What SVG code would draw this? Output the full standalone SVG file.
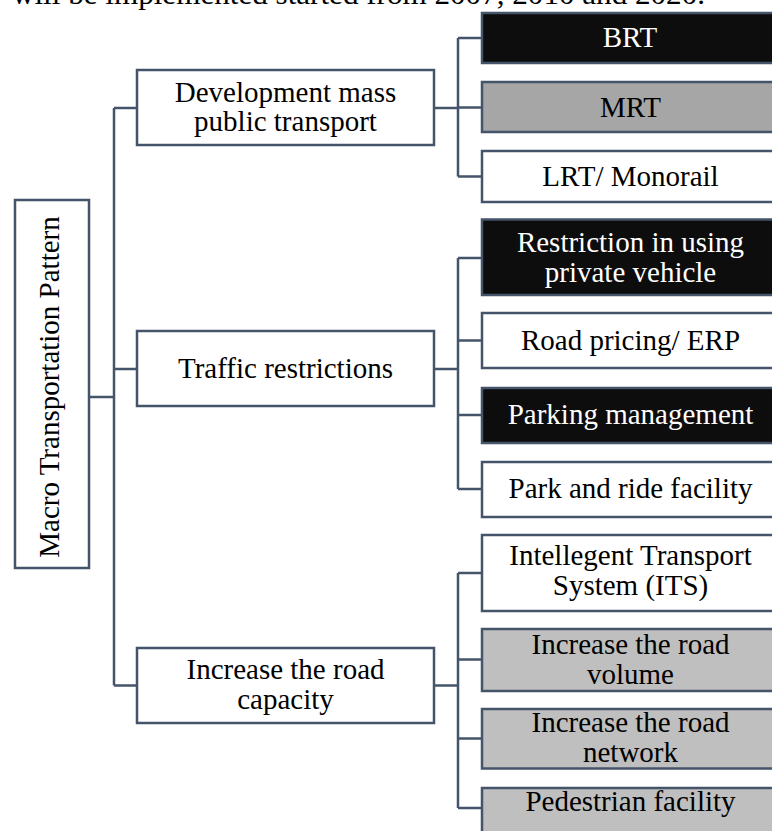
<svg xmlns="http://www.w3.org/2000/svg" width="772" height="831" viewBox="0 0 772 831">
<style>
  .box { stroke: #44546a; stroke-width: 2.5; }
  .w { fill: #ffffff; }
  .k { fill: #0d0d0d; }
  .g1 { fill: #a6a6a6; }
  .g2 { fill: #bfbfbf; }
  .t { font-family: "Liberation Serif", "Times New Roman", serif; font-size: 29px; text-anchor: middle; fill: #000000; }
  .tw { fill: #ffffff; }
  .conn { fill: none; stroke: #44546a; stroke-width: 2.5; }
</style>
<rect width="772" height="831" fill="#ffffff"/>
<text x="12" y="4" font-family="Liberation Serif, 'Times New Roman', serif" font-size="29" fill="#000000" textLength="693" lengthAdjust="spacingAndGlyphs">will be implemented started from 2007, 2010 and 2020.</text>

<g id="connectors">
  <path class="conn" d="M89 397 H114 M114 108 V685.5 M114 108 H137 M114 369 H137 M114 685.5 H137"/>
  <path class="conn" d="M434 108 H458 M458 38 V176.5 M458 38 H482 M458 107.5 H482 M458 176.5 H482"/>
  <path class="conn" d="M434 369 H458 M458 258 V489 M458 258 H482 M458 340.5 H482 M458 415 H482 M458 489 H482"/>
  <path class="conn" d="M434 685.5 H458 M458 573 V808 M458 573 H482 M458 659.5 H482 M458 738.5 H482 M458 808 H482"/>
</g>

<g id="root">
  <rect class="box w" x="15" y="200" width="74" height="368"/>
  <text class="t" transform="translate(59 387) rotate(-90)" x="0" y="0">Macro Transportation Pattern</text>
</g>

<g id="dev">
  <rect class="box w" x="137" y="70" width="297" height="75"/>
  <text class="t" x="285.5" y="101.7">Development mass</text>
  <text class="t" x="285.5" y="131">public transport</text>
</g>
<g id="traffic">
  <rect class="box w" x="137" y="331" width="297" height="75"/>
  <text class="t" x="285.5" y="377.7">Traffic restrictions</text>
</g>
<g id="capacity">
  <rect class="box w" x="137" y="648" width="297" height="75"/>
  <text class="t" x="285.5" y="679">Increase the road</text>
  <text class="t" x="285.5" y="708.5">capacity</text>
</g>

<g id="brt">
  <rect class="box k" x="482" y="13" width="298" height="50"/>
  <text class="t tw" x="630" y="46.7">BRT</text>
</g>
<g id="mrt">
  <rect class="box g1" x="482" y="82" width="298" height="50"/>
  <text class="t" x="630.5" y="116.7">MRT</text>
</g>
<g id="lrt">
  <rect class="box w" x="482" y="151" width="298" height="51"/>
  <text class="t" x="630.5" y="185.5">LRT/ Monorail</text>
</g>

<g id="restriction">
  <rect class="box k" x="482" y="219.5" width="298" height="75.5"/>
  <text class="t tw" x="630.5" y="251.5">Restriction in using</text>
  <text class="t tw" x="630.5" y="281.5">private vehicle</text>
</g>
<g id="roadpricing">
  <rect class="box w" x="482" y="313" width="298" height="55"/>
  <text class="t" x="630.5" y="349.5">Road pricing/ ERP</text>
</g>
<g id="parking">
  <rect class="box k" x="482" y="388" width="298" height="55"/>
  <text class="t tw" x="630.5" y="424">Parking management</text>
</g>
<g id="parkride">
  <rect class="box w" x="482" y="462" width="298" height="55"/>
  <text class="t" x="630.5" y="497.5">Park and ride facility</text>
</g>

<g id="its">
  <rect class="box w" x="482" y="535" width="298" height="76"/>
  <text class="t" x="630.5" y="565">Intellegent Transport</text>
  <text class="t" x="630.5" y="594.5">System (ITS)</text>
</g>
<g id="volume">
  <rect class="box g2" x="482" y="629" width="298" height="62"/>
  <text class="t" x="630.5" y="653.5">Increase the road</text>
  <text class="t" x="630.5" y="683.5">volume</text>
</g>
<g id="network">
  <rect class="box g2" x="482" y="709" width="298" height="59.5"/>
  <text class="t" x="630.5" y="731.7">Increase the road</text>
  <text class="t" x="630.5" y="761.7">network</text>
</g>
<g id="pedestrian">
  <rect class="box g2" x="482" y="788" width="298" height="60"/>
  <text class="t" x="630.5" y="810.7">Pedestrian facility</text>
</g>
</svg>
